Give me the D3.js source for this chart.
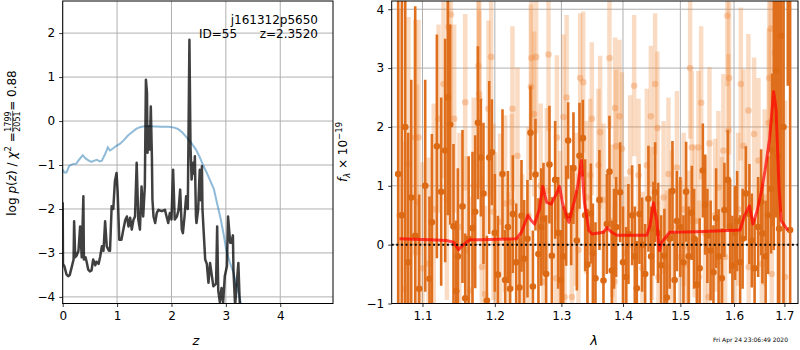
<!DOCTYPE html>
<html>
<head>
<meta charset="utf-8">
<script src="https://cdn.jsdelivr.net/npm/d3@7"></script>
<style>
  body { margin: 0; background: #fff; }
  svg { font-family: "DejaVu Sans", sans-serif; }
</style>
</head>
<body>
<div id="chart"></div>
<script>
/*** p(z) panel data ***/
var chiZ = [0.00,0.03,0.07,0.12,0.18,0.25,0.30,0.37,0.42,0.48,0.53,0.58,0.63,0.68,0.72,0.78,0.83,0.87,0.93,0.98,
  1.05,1.12,1.20,1.28,1.35,1.42,1.50,1.60,1.80,1.95,2.05,2.12,2.20,2.28,2.36,2.45,2.52,2.58,2.65,2.72,
  2.78,2.84,2.90,2.96,3.01,3.07,3.14,3.20,3.26,3.30];
var chiVal = [-1.10,-1.17,-1.17,-1.02,-0.98,-0.97,-0.88,-0.78,-0.85,-0.90,-0.93,-0.90,-0.88,-0.92,-0.90,-0.75,-0.60,-0.67,-0.62,-0.57,
  -0.52,-0.44,-0.33,-0.25,-0.18,-0.14,-0.12,-0.12,-0.13,-0.13,-0.15,-0.18,-0.26,-0.37,-0.49,-0.65,-0.82,-1.00,-1.18,-1.38,
  -1.55,-1.88,-2.20,-2.58,-2.95,-3.20,-3.45,-3.75,-4.05,-4.30];

var pzZ = [0.000,0.005,0.03,0.07,0.10,0.13,0.17,0.20,0.21,0.23,0.26,0.29,0.32,0.35,0.38,0.39,0.42,0.44,0.47,0.50,
  0.53,0.56,0.60,0.62,0.66,0.69,0.72,0.75,0.78,0.81,0.85,0.87,0.90,0.93,0.96,0.99,1.01,1.04,1.08,1.11,
  1.15,1.18,1.21,1.24,1.27,1.30,1.33,1.36,1.39,1.42,1.45,1.48,1.51,1.53,1.55,1.56,1.57,1.60,1.62,1.64,
  1.65,1.67,1.70,1.73,1.76,1.82,1.88,1.91,1.94,1.97,2.00,2.03,2.06,2.10,2.13,2.16,2.19,2.21,2.24,2.27,
  2.30,2.33,2.35,2.37,2.40,2.42,2.43,2.45,2.46,2.49,2.52,2.54,2.56,2.57,2.59,2.62,2.65,2.68,2.71,2.74,
  2.77,2.82,2.84,2.86,2.89,2.92,2.95,2.98,3.02,3.04,3.08,3.10,3.13,3.14,3.17,3.20,3.23,3.26,3.28];
var pzVal = [-1.85,-3.25,-3.30,-3.49,-3.53,-3.50,-3.30,-3.15,-2.28,-3.10,-3.05,-2.95,-2.40,-3.10,-1.71,-3.15,-3.10,-3.20,-3.38,-3.42,
  -3.40,-3.15,-3.28,-3.20,-3.25,-3.08,-2.85,-2.95,-2.28,-2.85,-2.95,-2.95,-1.94,-2.00,-1.37,-1.18,-1.60,-2.70,-2.70,-2.50,
  -2.25,-2.17,-2.40,-2.20,-2.47,-2.25,-2.17,-0.95,-2.24,-2.47,-1.49,-2.17,-1.49,0.94,0.64,-0.72,-0.12,-0.65,0.33,-0.80,
  -1.79,-2.17,-2.32,-2.09,-2.02,-2.05,-2.02,-2.17,-2.32,-2.09,-2.24,-1.11,-2.24,-2.17,-2.02,-1.56,-2.47,-2.55,-2.17,-1.71,
  -2.00,1.85,-0.58,-1.33,-0.95,-1.20,-0.80,-2.17,-2.32,-2.02,-1.11,-1.80,-1.03,-2.00,-2.47,-3.15,-3.25,-3.68,-3.23,-3.50,
  -3.76,-3.70,-2.40,-3.85,-4.13,-3.80,-4.13,-3.53,-3.30,-2.17,-2.77,-2.77,-2.60,-3.40,-4.20,-3.70,-3.23,-4.30,-5.00];

var zTicks = [0, 1, 2, 3, 4];
var pTicks = [-4, -3, -2, -1, 0, 1, 2];

/*** spectrum panel data ***/
var darkWave = [1.0683,1.0731,1.0774,1.0812,1.0852,1.0904,1.0956,1.1036,1.1093,1.1125,1.1192,1.1250,1.1304,1.1340,1.1373,1.1418,1.1455,1.1478,1.1542,1.1580,
  1.1628,1.1682,1.1720,1.1758,1.1800,1.1837,1.1886,1.1919,1.1957,1.2000,1.2044,1.2111,1.2150,1.2190,1.2223,1.2263,1.2312,1.2361,1.2391,1.2431,
  1.2480,1.2526,1.2562,1.2601,1.2646,1.2688,1.2723,1.2764,1.2815,1.2852,1.2903,1.2950,1.2990,1.3028,1.3075,1.3106,1.3154,1.3190,1.3244,1.3286,
  1.3340,1.3377,1.3414,1.3469,1.3502,1.3544,1.3609,1.3675,1.3731,1.3774,1.3813,1.3850,1.3885,1.3952,1.4000,1.4053,1.4092,1.4155,1.4200,1.4235,
  1.4280,1.4326,1.4378,1.4435,1.4482,1.4522,1.4552,1.4604,1.4657,1.4715,1.4758,1.4808,1.4858,1.4897,1.4937,1.5000,1.5056,1.5104,1.5150,1.5208,
  1.5250,1.5300,1.5352,1.5411,1.5454,1.5496,1.5556,1.5609,1.5659,1.5706,1.5767,1.5816,1.5881,1.5925,1.5969,1.6020,1.6060,1.6118,1.6166,1.6229,
  1.6299,1.6346,1.6401,1.6471,1.6530,1.6556,1.6620,1.6670,1.6730,1.6752,1.6784,1.6831,1.6870,1.6892,1.6932,1.6980,1.7069,1.7117];
var darkFlux = [1.20,0.50,2.00,-0.30,0.80,0.15,-0.75,1.00,-0.58,0.38,1.67,0.90,1.60,2.50,2.04,0.31,-0.79,-0.20,0.65,-0.91,
  0.10,0.28,0.56,2.07,1.48,0.87,-0.95,1.48,1.57,0.20,-0.51,1.20,-0.60,0.30,-0.75,0.52,-0.30,-0.73,0.49,-0.24,
  0.10,1.90,-0.71,1.19,-0.16,0.30,0.44,-0.50,1.36,-0.19,1.10,0.20,-0.60,-0.20,0.49,1.77,0.50,1.30,0.07,1.51,
  1.81,0.50,-0.34,0.53,-0.15,-0.57,0.76,-0.61,0.35,1.24,-0.44,0.10,0.30,0.89,-0.30,-0.55,0.18,0.50,-0.20,-0.74,
  0.52,0.00,-0.50,0.78,-0.20,0.27,0.89,0.20,-0.35,-0.19,-0.90,0.10,0.91,-0.60,0.40,0.30,-0.30,0.90,-0.20,0.54,
  0.10,-0.68,-0.40,1.26,0.68,0.15,-0.10,-0.47,0.45,-0.20,-0.57,0.59,1.10,0.31,-0.36,0.20,0.40,-0.30,0.10,0.87,
  0.52,0.07,-0.40,0.30,0.72,0.19,-0.20,0.50,0.95,1.61,2.11,2.96,1.50,0.27,3.55,2.00,4.50,0.25];
var darkErr = [6.0,6.0,5.0,2.2,2.0,3.9,1.6,1.8,1.4,1.5,1.9,1.6,1.9,2.0,1.7,1.4,1.2,1.5,1.3,1.1,
  1.4,1.3,1.3,1.3,1.0,1.2,1.1,1.3,0.9,1.0,1.0,1.1,0.85,0.95,0.85,1.0,1.0,0.85,0.95,1.0,
  1.0,0.8,0.95,0.95,0.95,1.0,0.95,1.0,1.0,1.0,1.0,0.95,0.85,0.85,0.85,0.65,0.85,0.95,0.85,0.9,
  0.65,0.95,0.95,0.85,0.85,0.95,0.85,0.85,0.85,0.95,0.85,0.85,0.85,0.85,0.95,0.85,0.85,0.85,0.85,0.8,
  0.85,0.8,0.85,0.9,0.85,0.8,0.85,0.85,0.85,0.8,0.9,0.85,0.85,0.8,0.85,0.85,0.8,0.85,0.85,0.8,
  0.85,0.8,0.85,0.8,0.85,0.8,0.85,0.8,0.85,0.8,0.85,0.8,0.85,0.8,0.85,0.8,0.85,0.8,0.85,0.8,
  0.85,0.8,0.85,0.85,0.9,0.85,0.95,1.0,1.1,1.3,2.2,2.5,5.0,4.5,3.0,5.0,1.8,6.0];

var lightWave = [1.0700,1.0774,1.0816,1.0904,1.0926,1.0947,1.1000,1.1080,1.1150,1.1214,1.1281,1.1328,1.1349,1.1382,1.1427,1.1500,1.1580,1.1600,1.1649,1.1700,
  1.1766,1.1775,1.1779,1.1814,1.1861,1.1908,1.1946,1.1980,1.2005,1.2077,1.2150,1.2200,1.2248,1.2257,1.2331,1.2400,1.2495,1.2532,1.2541,1.2581,
  1.2611,1.2680,1.2723,1.2775,1.2800,1.2918,1.2930,1.2981,1.3032,1.3050,1.3082,1.3165,1.3230,1.3270,1.3297,1.3346,1.3400,1.3458,1.3485,1.3593,
  1.3620,1.3675,1.3774,1.3820,1.3860,1.3868,1.3885,1.3941,1.3981,1.4050,1.4121,1.4189,1.4263,1.4330,1.4407,1.4477,1.4494,1.4552,1.4592,1.4610,
  1.4700,1.4758,1.4787,1.4847,1.4937,1.5000,1.5060,1.5116,1.5145,1.5177,1.5208,1.5260,1.5330,1.5340,1.5379,1.5450,1.5515,1.5534,1.5640,1.5702,
  1.5767,1.5797,1.5829,1.5873,1.5892,1.5905,1.6021,1.6080,1.6131,1.6182,1.6279,1.6285,1.6391,1.6477,1.6545,1.6600,1.6683,1.6695,1.6723,1.6743,
  1.6810,1.6900,1.7014];
var lightFlux = [0.50,-0.75,1.37,1.82,0.72,1.82,-0.40,-0.32,0.60,2.14,2.73,0.76,3.70,3.91,2.14,0.30,2.42,-0.10,-0.78,1.00,
  3.04,2.56,2.48,-0.38,-0.84,2.31,3.19,0.56,0.07,0.39,0.70,-0.50,0.72,2.31,1.51,-0.30,0.50,2.68,3.17,2.22,
  3.19,1.00,-0.63,0.92,3.23,-0.57,1.82,0.19,2.17,-0.89,2.50,-0.89,0.60,-0.09,2.83,2.76,0.80,1.18,2.14,1.35,
  1.91,0.76,3.17,0.40,-0.63,2.32,1.67,2.18,1.63,-0.14,1.24,2.70,1.18,-0.40,1.35,2.18,0.36,2.73,1.98,-0.55,
  0.80,-0.38,1.20,0.30,1.31,-0.21,0.60,-0.33,-0.04,3.00,1.65,0.40,1.65,-0.55,2.41,0.20,-0.89,1.72,0.50,0.97,
  0.19,1.60,-0.21,3.89,1.94,2.83,-0.33,0.60,2.73,1.68,2.28,-0.38,1.88,1.43,-0.33,0.80,2.07,2.83,3.67,-0.50,
  3.26,1.00,-0.55];
var lightErr = [3.5,2.5,2.5,2.0,2.0,2.0,1.8,1.8,1.8,1.6,1.6,1.7,1.8,1.8,1.6,1.6,1.5,1.6,1.6,1.5,
  1.5,1.6,1.5,1.5,1.5,1.5,1.4,1.5,1.5,1.5,1.5,1.4,1.5,1.4,1.5,1.5,1.5,1.4,1.3,1.4,
  1.3,1.4,1.4,1.4,1.3,1.4,1.4,1.4,1.4,1.4,1.4,1.3,1.3,1.3,1.1,1.2,1.3,1.3,1.3,1.3,
  1.3,1.3,1.2,1.3,1.3,1.2,1.3,1.3,1.3,1.3,1.3,1.2,1.3,1.3,1.3,1.2,1.3,1.2,1.3,1.3,
  1.3,1.3,1.3,1.3,1.3,1.3,1.3,1.3,1.3,1.2,1.3,1.3,1.3,1.3,1.3,1.3,1.3,1.3,1.3,1.3,
  1.3,1.3,1.3,1.2,1.3,1.3,1.3,1.3,1.3,1.3,1.3,1.3,1.3,1.4,1.4,1.5,1.6,1.7,1.8,1.8,
  2.5,3.5,3.0];

var modelWave = [1.070,1.110,1.132,1.142,1.1487,1.1555,1.1648,1.1788,1.2316,1.2390,1.2487,1.2537,1.2587,1.2662,1.2711,1.2773,1.2841,1.2917,1.2970,1.3021,
  1.3116,1.3207,1.3260,1.3317,1.3365,1.3436,1.3489,1.3675,1.3731,1.3813,1.3896,1.4405,1.4462,1.4522,1.4580,1.4625,1.4667,1.4810,1.5300,1.6118,
  1.6200,1.6299,1.6367,1.6453,1.6539,1.6608,1.6700,1.6780,1.6830,1.6890,1.6935,1.7070];
var modelFlux = [0.10,0.085,0.07,0.04,-0.085,0.00,0.085,0.085,0.10,0.21,0.50,0.41,0.35,0.61,0.99,0.72,0.69,0.85,0.99,0.69,
  0.38,0.75,1.01,1.43,0.72,0.24,0.18,0.21,0.29,0.21,0.16,0.16,0.32,0.71,0.41,-0.10,0.04,0.21,0.22,0.25,
  0.49,0.66,0.35,0.58,0.92,1.26,1.80,2.60,2.30,0.97,0.41,0.24];

var lamTicks = [1.1, 1.2, 1.3, 1.4, 1.5, 1.6, 1.7];
var fTicks = [-1, 0, 1, 2, 3, 4];

/*** layout ***/
var W = 800, H = 350;
var top_ = 1, bottom_ = 303.5;
var FS = 12;

var svg = d3.select("#chart").append("svg")
    .attr("width", W)
    .attr("height", H);

var defs = svg.append("defs");

function clip(id, x0, x1) {
    defs.append("clipPath").attr("id", id)
        .append("rect")
        .attr("x", x0).attr("y", top_)
        .attr("width", x1 - x0).attr("height", bottom_ - top_);
}

// grid (drawGrid) or ticks + frame for one panel
function frame(x, y, xt, yt, xfmt, yfmt, drawGrid) {
    var x0 = x.range()[0], x1 = x.range()[1];
    var g = svg.append("g");
    if (drawGrid) {
        g.selectAll("line.gx").data(xt).enter().append("line")
            .attr("x1", function(d) { return x(d); }).attr("x2", function(d) { return x(d); })
            .attr("y1", top_).attr("y2", bottom_)
            .attr("stroke", "#b0b0b0").attr("stroke-width", 1);
        g.selectAll("line.gy").data(yt).enter().append("line")
            .attr("x1", x0).attr("x2", x1)
            .attr("y1", function(d) { return y(d); }).attr("y2", function(d) { return y(d); })
            .attr("stroke", "#b0b0b0").attr("stroke-width", 1);
        return;
    }
    var ax = svg.append("g")
        .attr("transform", "translate(0," + bottom_ + ")")
        .call(d3.axisBottom(x).tickValues(xt).tickFormat(xfmt).tickSize(3.5).tickPadding(4));
    var ay = svg.append("g")
        .attr("transform", "translate(" + x0 + ",0)")
        .call(d3.axisLeft(y).tickValues(yt).tickFormat(yfmt).tickSize(3.5).tickPadding(4));
    [ax, ay].forEach(function(a) {
        a.select(".domain").remove();
        a.selectAll("text").attr("font-size", FS).attr("font-family", "DejaVu Sans").attr("fill", "#000");
        a.selectAll("line").attr("stroke", "#000").attr("stroke-width", 0.8);
    });
    svg.append("rect")
        .attr("x", x0).attr("y", top_)
        .attr("width", x1 - x0).attr("height", bottom_ - top_)
        .attr("fill", "none").attr("stroke", "#000").attr("stroke-width", 1);
}

// *** left panel ***
var xz = d3.scaleLinear().domain([0, 4.97]).range([62.7, 333]);
var yz = d3.scaleLinear().domain([-4.15, 2.73]).range([bottom_, top_]);
clip("clipL", 62.7, 333);

frame(xz, yz, zTicks, pTicks, null, null, true);

var pl = svg.append("g").attr("clip-path", "url(#clipL)");
pl.append("path")
    .datum(d3.range(chiZ.length))
    .attr("fill", "none")
    .attr("stroke", "#1f77b4").attr("stroke-opacity", 0.5).attr("stroke-width", 2)
    .attr("d", d3.line().x(function(i) { return xz(chiZ[i]); }).y(function(i) { return yz(chiVal[i]); }));
pl.append("path")
    .datum(d3.range(pzZ.length))
    .attr("fill", "none")
    .attr("stroke", "#000").attr("stroke-opacity", 0.75).attr("stroke-width", 2.5)
    .attr("stroke-linejoin", "round")
    .attr("d", d3.line().x(function(i) { return xz(pzZ[i]); }).y(function(i) { return yz(pzVal[i]); }));

frame(xz, yz, zTicks, pTicks, d3.format("d"), d3.format("d"), false);

svg.append("text").attr("x", 318).attr("y", 24).attr("text-anchor", "end")
    .attr("font-size", FS).text("j161312p5650");
svg.append("text").attr("x", 199).attr("y", 38)
    .attr("font-size", FS).text("ID=55");
svg.append("text").attr("x", 318).attr("y", 38).attr("text-anchor", "end")
    .attr("font-size", FS).text("z=2.3520");

svg.append("text").attr("x", xz(2.45)).attr("y", 345).attr("text-anchor", "middle")
    .attr("font-size", 13).attr("font-style", "italic").text("z");

// y label: log p(z) / chi^2 = 1799/2051 = 0.88
var labL = svg.append("g").attr("transform", "translate(16,143) rotate(-90)");
var inner = labL.append("g");
var t1 = inner.append("text").attr("font-size", FS);
t1.append("tspan").text("log ");
t1.append("tspan").attr("font-style", "italic").text("p");
t1.append("tspan").text("(");
t1.append("tspan").attr("font-style", "italic").text("z");
t1.append("tspan").text(") / ");
t1.append("tspan").attr("font-style", "italic").text("χ");
t1.append("tspan").attr("font-size", 8.5).attr("dy", -5).text("2");
t1.append("tspan").attr("dy", 5).text(" = ");
var w1 = t1.node().getComputedTextLength();
var num = inner.append("text").attr("font-size", 8).attr("y", -4.8).text("1799");
var den = inner.append("text").attr("font-size", 8).attr("y", 4.2).text("2051");
var fw = Math.max(num.node().getComputedTextLength(), den.node().getComputedTextLength()) + 1;
num.attr("x", w1 + fw / 2).attr("text-anchor", "middle");
den.attr("x", w1 + fw / 2).attr("text-anchor", "middle");
inner.append("line").attr("x1", w1).attr("x2", w1 + fw).attr("y1", -3.3).attr("y2", -3.3)
    .attr("stroke", "#000").attr("stroke-width", 0.7);
var t3 = inner.append("text").attr("font-size", FS).attr("x", w1 + fw).text(" = 0.88");
var total = w1 + fw + t3.node().getComputedTextLength();
inner.attr("transform", "translate(" + (-total / 2) + ",0)");

// *** right panel ***
var xl = d3.scaleLog().domain([1.060, 1.728]).range([391.7, 798]);
var yf = d3.scaleLinear().domain([-1, 4.14]).range([bottom_, top_]);
clip("clipR", 391.7, 798);

frame(xl, yf, lamTicks, fTicks, null, null, true);

var pr = svg.append("g").attr("clip-path", "url(#clipR)");

// light (second) spectrum: error bars then markers
pr.append("g").selectAll("line").data(d3.range(lightWave.length)).enter().append("line")
    .attr("x1", function(i) { return xl(lightWave[i]); })
    .attr("x2", function(i) { return xl(lightWave[i]); })
    .attr("y1", function(i) { return yf(lightFlux[i] - lightErr[i]); })
    .attr("y2", function(i) { return yf(lightFlux[i] + lightErr[i]); })
    .attr("stroke", "#f08a3c").attr("stroke-opacity", 0.3).attr("stroke-width", 4.5);
pr.append("g").selectAll("circle").data(d3.range(lightWave.length)).enter().append("circle")
    .attr("cx", function(i) { return xl(lightWave[i]); })
    .attr("cy", function(i) { return yf(lightFlux[i]); })
    .attr("r", 3.3)
    .attr("fill", "#ef8a40").attr("fill-opacity", 0.38);

// dark (main) spectrum
pr.append("g").selectAll("line").data(d3.range(darkWave.length)).enter().append("line")
    .attr("x1", function(i) { return xl(darkWave[i]); })
    .attr("x2", function(i) { return xl(darkWave[i]); })
    .attr("y1", function(i) { return yf(darkFlux[i] - darkErr[i]); })
    .attr("y2", function(i) { return yf(darkFlux[i] + darkErr[i]); })
    .attr("stroke", "#df6f1d").attr("stroke-width", 2.6);
pr.append("g").selectAll("circle").data(d3.range(darkWave.length)).enter().append("circle")
    .attr("cx", function(i) { return xl(darkWave[i]); })
    .attr("cy", function(i) { return yf(darkFlux[i]); })
    .attr("r", 3.3)
    .attr("fill", "#dc6a15");

// model
pr.append("path")
    .datum(d3.range(modelWave.length))
    .attr("fill", "none")
    .attr("stroke", "red").attr("stroke-opacity", 0.7).attr("stroke-width", 3)
    .attr("stroke-linejoin", "round")
    .attr("d", d3.line().x(function(i) { return xl(modelWave[i]); }).y(function(i) { return yf(modelFlux[i]); }));

// zero line
pr.append("line")
    .attr("x1", 391.7).attr("x2", 798)
    .attr("y1", yf(0)).attr("y2", yf(0))
    .attr("stroke", "#000").attr("stroke-width", 2).attr("stroke-dasharray", "2,2.6");

frame(xl, yf, lamTicks, fTicks, d3.format(".1f"), d3.format("d"), false);

svg.append("text").attr("x", 594).attr("y", 345).attr("text-anchor", "middle")
    .attr("font-size", 13).attr("font-style", "italic").text("λ");

// y label: f_lambda x 10^-19
var labR = svg.append("g").attr("transform", "translate(347,152) rotate(-90)");
var tr = labR.append("text").attr("font-size", FS).attr("text-anchor", "middle");
tr.append("tspan").attr("font-style", "italic").text("f");
tr.append("tspan").attr("font-style", "italic").attr("font-size", 8.5).attr("dy", 3).text("λ");
tr.append("tspan").attr("dy", -3).text(" × 10");
tr.append("tspan").attr("font-size", 8.5).attr("dy", -5).text("−19");

svg.append("text").attr("x", 788).attr("y", 342).attr("text-anchor", "end")
    .attr("font-size", 6).text("Fri Apr 24 23:06:49 2020");
</script>
</body>
</html>
